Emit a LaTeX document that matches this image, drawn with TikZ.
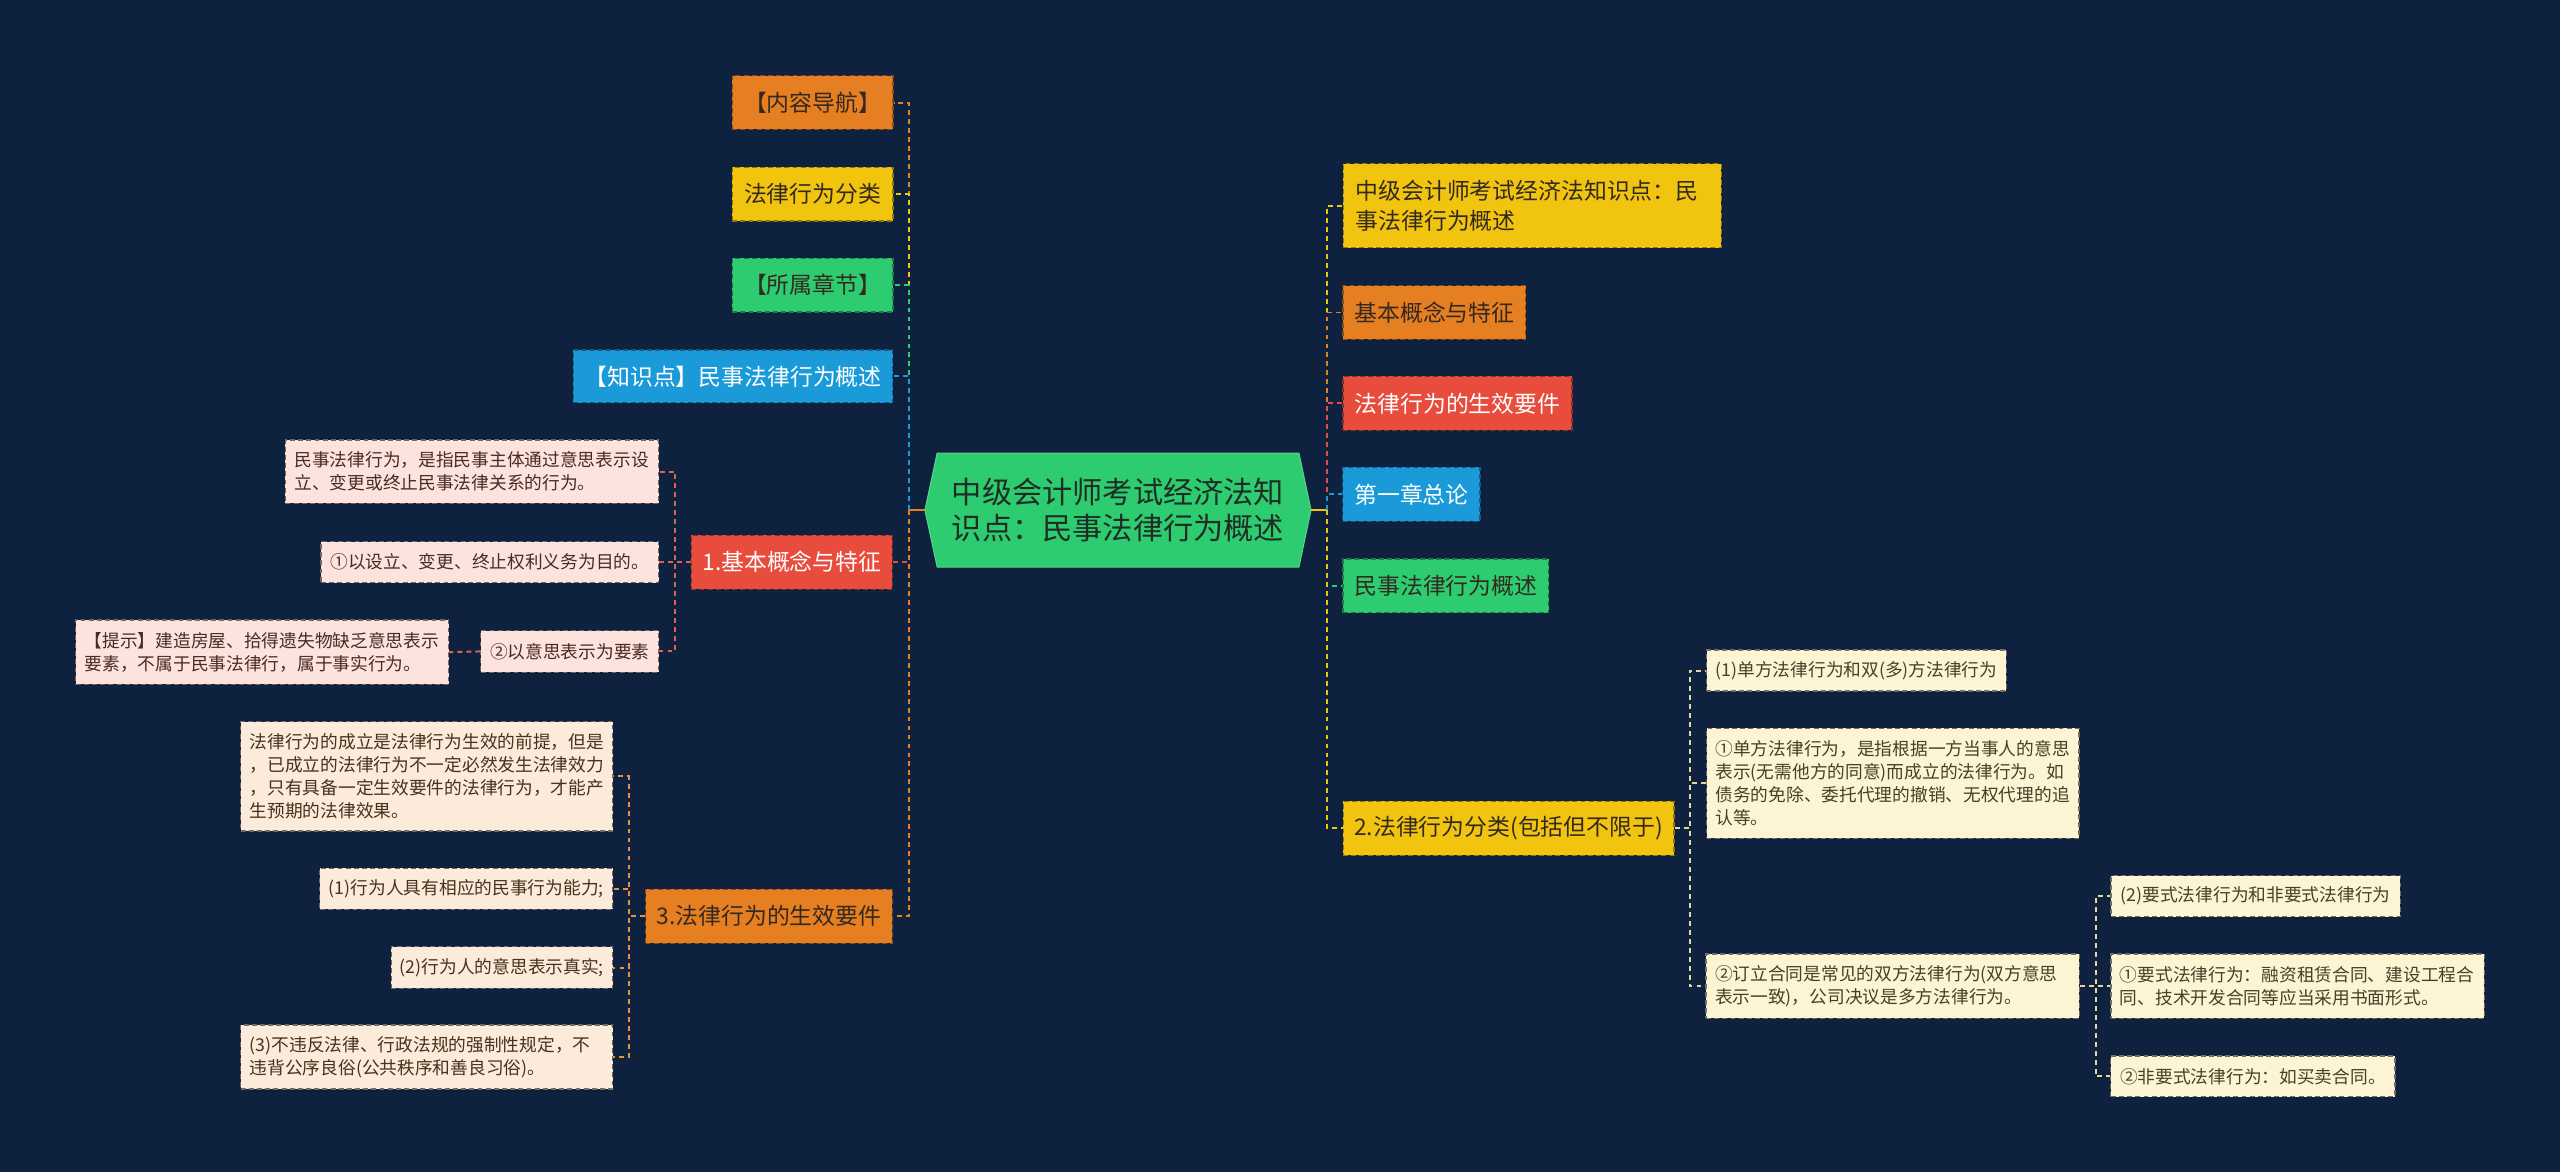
\documentclass[tikz,border=0pt]{standalone}
\usepackage{fontspec}
\setmainfont{Noto Sans CJK SC}
\usetikzlibrary{calc}

\definecolor{bg}{HTML}{0E2240}
\definecolor{cO}{HTML}{E67E22}
\definecolor{cY}{HTML}{F1C40F}
\definecolor{cG}{HTML}{2ECC71}
\definecolor{cB}{HTML}{1A9AD8}
\definecolor{cR}{HTML}{E74C3C}
\definecolor{cPink}{HTML}{FCE3DE}
\definecolor{cPeach}{HTML}{FCEBDA}
\definecolor{cCream}{HTML}{FDF4D3}
\definecolor{tDark}{HTML}{33291F}
\definecolor{tRoot}{HTML}{1F2D24}
\definecolor{tPink}{HTML}{4A2A22}
\definecolor{tPeach}{HTML}{45321F}
\definecolor{tCream}{HTML}{45402A}
\definecolor{eR}{HTML}{D9654C}
\definecolor{eO}{HTML}{E8913C}
\definecolor{eC}{HTML}{E6D69A}

\tikzset{
  box/.style={draw, dash pattern=on 3pt off 2pt, line width=0.7pt, inner sep=0pt, align=center},
  bigbox/.style={box, font=\fontsize{14}{18}\selectfont, minimum height=33pt},
  smallbox/.style={box, font=\fontsize{10.85}{14.1}\selectfont},
  obox/.style={bigbox, fill=cO, draw=cO!60!black, text=tDark},
  ybox/.style={bigbox, fill=cY, draw=cY!60!black, text=tDark},
  gbox/.style={bigbox, fill=cG, draw=cG!60!black, text=tDark},
  bbox/.style={bigbox, fill=cB, draw=cB!60!black, text=white},
  rbox/.style={bigbox, fill=cR, draw=cR!60!black, text=white},
  pinkbox/.style={smallbox, fill=cPink, draw=cPink!45!black, text=tPink},
  peachbox/.style={smallbox, fill=cPeach, draw=cPeach!45!black, text=tPeach},
  creambox/.style={smallbox, fill=cCream, draw=cCream!45!black, text=tCream},
  multi/.style={align=left, inner xsep=5.5pt, text width=#1},
  rootbox/.style={inner sep=0pt, align=center, font=\fontsize{18.5}{22.5}\selectfont, text=tRoot},
  edge/.style={line width=1.2pt, dash pattern=on 3pt off 2.5pt},
  rootstub/.style={line width=1.6pt}
}

\begin{document}
\begin{tikzpicture}[x=1pt, y=-1pt]
\useasboundingbox (0,0) rectangle (1568,718);
\fill[bg] (0,0) rectangle (1568,718);

% root hexagon
\coordinate (rootL) at (566.5,312.4);
\coordinate (rootR) at (803,312.4);
\filldraw[fill=cG, draw=cG!80!white, line width=0.6pt]
  (574,277.5) -- (795.6,277.5) -- (rootR) -- (795.6,347.3) -- (574,347.3) -- (rootL) -- cycle;
\node[rootbox, minimum width=221.6pt, minimum height=69.8pt] (root) at (684.8,312.4)
  {中级会计师考试经济法知\\识点：民事法律行为概述};

% left level 1
\node[obox, minimum width=98.5pt] (L1) at (497.7,62.8) {【内容导航】};
\node[ybox, minimum width=98.5pt] (L2) at (497.7,118.9) {法律行为分类};
\node[gbox, minimum width=98.5pt] (L3) at (497.7,174.6) {【所属章节】};
\node[bbox, minimum width=195.5pt, minimum height=32.2pt] (L4) at (449,230.5) {【知识点】民事法律行为概述};
\node[rbox, minimum width=123pt] (L5) at (485,344.3) {1.基本概念与特征};
\node[obox, minimum width=151.2pt] (L6) at (471,561.2) {3.法律行为的生效要件};

% right level 1
\node[ybox, align=left, inner xsep=7.7pt, text width=216.1pt, minimum height=51.5pt] (R1) at (938.4,126.1)
  {中级会计师考试经济法知识点：民\\事法律行为概述};
\node[obox, minimum width=112pt] (R2) at (878.6,191.4) {基本概念与特征};
\node[rbox, minimum width=140.2pt] (R3) at (892.7,247.1) {法律行为的生效要件};
\node[bbox, minimum width=84pt] (R4) at (864.5,302.8) {第一章总论};
\node[gbox, minimum width=126pt] (R5) at (885.6,358.9) {民事法律行为概述};
\node[ybox, minimum width=202.7pt] (R6) at (924,507.4) {2.法律行为分类(包括但不限于)};

% children of L5
\node[pinkbox, multi=217.5pt, minimum height=38.8pt] (A1) at (289.1,288.9)
  {民事法律行为，是指民事主体通过意思表示设\\立、变更或终止民事法律关系的行为。};
\node[pinkbox, minimum width=206.7pt, minimum height=25.1pt] (A2) at (300,344.3) {①以设立、变更、终止权利义务为目的。};
\node[pinkbox, minimum width=108.9pt, minimum height=25.5pt] (A3) at (349,399) {②以意思表示为要素};
\node[pinkbox, multi=217.3pt, minimum height=39.3pt] (A4) at (160.6,399.4)
  {【提示】建造房屋、拾得遗失物缺乏意思表示\\要素，不属于民事法律行，属于事实行为。};

% children of L6
\node[peachbox, multi=216.8pt, minimum height=67pt] (B1) at (261.4,475.5)
  {法律行为的成立是法律行为生效的前提，但是\\，已成立的法律行为不一定必然发生法律效力\\，只有具备一定生效要件的法律行为，才能产\\生预期的法律效果。};
\node[peachbox, minimum width=179.3pt, minimum height=25.2pt] (B2) at (285.6,544.4) {(1)行为人具有相应的民事行为能力;};
\node[peachbox, minimum width=135.7pt, minimum height=25.5pt] (B3) at (307.4,592.6) {(2)行为人的意思表示真实;};
\node[peachbox, multi=216.8pt, minimum height=39.2pt] (B4) at (261.4,647.4)
  {(3)不违反法律、行政法规的强制性规定，不\\违背公序良俗(公共秩序和善良习俗)。};

% children of R6
\node[creambox, minimum width=183.7pt, minimum height=25.1pt] (C1) at (1137.1,410.7) {(1)单方法律行为和双(多)方法律行为};
\node[creambox, multi=217.1pt, minimum height=67.4pt] (C2) at (1159.3,479.8)
  {①单方法律行为，是指根据一方当事人的意思\\表示(无需他方的同意)而成立的法律行为。如\\债务的免除、委托代理的撤销、无权代理的追\\认等。};
\node[creambox, multi=217.7pt, minimum height=39.4pt] (C3) at (1159.3,604)
  {②订立合同是常见的双方法律行为(双方意思\\表示一致)，公司决议是多方法律行为。};

% children of C3
\node[creambox, minimum width=177.1pt, minimum height=25.1pt] (D1) at (1381.5,548.9) {(2)要式法律行为和非要式法律行为};
\node[creambox, multi=217.7pt, minimum height=39.4pt] (D2) at (1407.3,604)
  {①要式法律行为：融资租赁合同、建设工程合\\同、技术开发合同等应当采用书面形式。};
\node[creambox, minimum width=174pt, minimum height=25pt] (D3) at (1379.9,659.3) {②非要式法律行为：如买卖合同。};

% root stubs
\draw[rootstub, cO] (rootL) -- ++(-10,0) coordinate (sL);
\draw[rootstub, cY] (rootR) -- ++(9.8,0) coordinate (sR);

% left edges
\draw[edge, cO] (sL) |- (L1.east);
\draw[edge, cY] (sL) |- (L2.east);
\draw[edge, cG] (sL) |- (L3.east);
\draw[edge, cB] (sL) |- (L4.east);
\draw[edge, cR] (sL) |- (L5.east);
\draw[edge, cO] (sL) |- (L6.east);

% right edges
\draw[edge, cY] (sR) |- (R1.west);
\draw[edge, cO] (sR) |- (R2.west);
\draw[edge, cR] (sR) |- (R3.west);
\draw[edge, cB] (sR) |- (R4.west);
\draw[edge, cG] (sR) |- (R5.west);
\draw[edge, cY] (sR) |- (R6.west);

% L5 children
\draw[edge, eR] (L5.west) -- ++(-9.8,0) |- (A1.east);
\draw[edge, eR] (L5.west) -- ++(-9.8,0) |- (A2.east);
\draw[edge, eR] (L5.west) -- ++(-9.8,0) |- (A3.east);
\draw[edge, eR] (A3.west) -- (A4.east);

% L6 children
\draw[edge, eO] (L6.west) -- ++(-9.8,0) |- (B1.east);
\draw[edge, eO] (L6.west) -- ++(-9.8,0) |- (B2.east);
\draw[edge, eO] (L6.west) -- ++(-9.8,0) |- (B3.east);
\draw[edge, eO] (L6.west) -- ++(-9.8,0) |- (B4.east);

% R6 children
\draw[edge, eC] (R6.east) -- ++(9.4,0) |- (C1.west);
\draw[edge, eC] (R6.east) -- ++(9.4,0) |- (C2.west);
\draw[edge, eC] (R6.east) -- ++(9.4,0) |- (C3.west);

% C3 children
\draw[edge, eC] (C3.east) -- ++(9.8,0) |- (D1.west);
\draw[edge, eC] (C3.east) -- ++(9.8,0) |- (D2.west);
\draw[edge, eC] (C3.east) -- ++(9.8,0) |- (D3.west);
\end{tikzpicture}
\end{document}
